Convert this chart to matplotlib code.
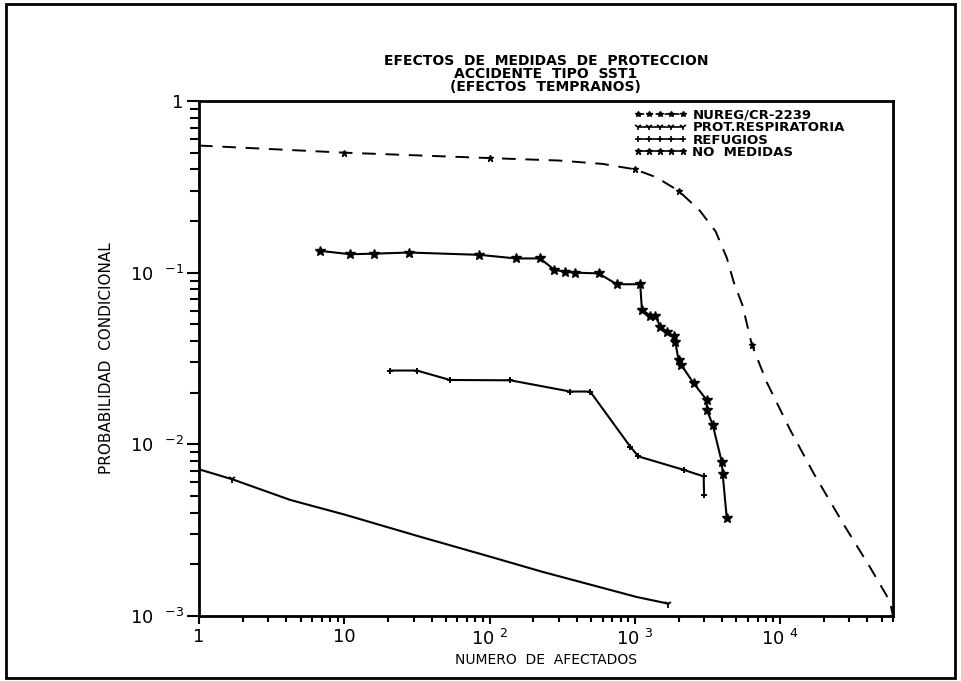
import numpy as np
import matplotlib.pyplot as plt
from matplotlib.lines import Line2D
from matplotlib.patches import Rectangle
from matplotlib.ticker import LogLocator, NullFormatter, FixedLocator, FixedFormatter

# curva de referencia NUREG/CR-2239 (discontinua)
nureg_x = [1, 10, 100, 300, 600, 1000, 1400, 2000, 2800, 3600, 4300, 4800, 5500, 6400,
           8100, 11700, 17000, 27500, 42000, 57000, 60000]
nureg_y = [0.55, 0.50, 0.465, 0.45, 0.43, 0.40, 0.36, 0.30, 0.23, 0.174, 0.122, 0.088, 0.065,
           0.038, 0.023, 0.0122, 0.0068, 0.0034, 0.0019, 0.00122, 0.001]
nureg_marks = [1, 2, 5, 7, 13, 20]

prot_x = [1, 1.7, 4.25, 10, 33, 100, 230, 1030, 1700]
prot_y = [0.00715, 0.00625, 0.00474, 0.0039, 0.0029, 0.00222, 0.00181, 0.00129, 0.00118]
prot_marks = [1, 8]

refugios_x = [20.7, 31.6, 53.5, 139, 359, 493, 930, 1060, 2170, 2980, 3000]
refugios_y = [0.0269, 0.0269, 0.0237, 0.0236, 0.0203, 0.0203, 0.0097, 0.0085, 0.0071, 0.0065, 0.0051]

no_med_x = [6.8, 11, 16, 28, 85, 152, 223, 279, 332, 389, 563, 752, 1090, 1120, 1280, 1380,
            1500, 1660, 1850, 1900, 2000, 2090, 2540, 3130, 3130, 3440, 3970, 4030, 4300]
no_med_y = [0.134, 0.128, 0.129, 0.131, 0.127, 0.121, 0.121, 0.104, 0.101, 0.100, 0.099, 0.0856,
            0.0856, 0.0607, 0.0562, 0.0562, 0.0485, 0.0454, 0.0425, 0.0396, 0.031, 0.029, 0.0227,
            0.0181, 0.0159, 0.013, 0.0079, 0.0067, 0.0037]

x_ticks = [1, 10, 100, 1000, 10000]
x_labels = ['1', '10', '10 $^{2}$', '10 $^{3}$', '10 $^{4}$']
y_ticks = [0.001, 0.01, 0.1, 1]
y_labels = ['10  $^{-3}$', '10  $^{-2}$', '10  $^{-1}$', '1']

fig = plt.figure(figsize=(9.61, 6.81), dpi=100)
ax = fig.add_axes([0.2071, 0.0955, 0.7222, 0.7562])

ax.plot(nureg_x, nureg_y, color='black', lw=1.4, ls=(0, (7, 5)))
ax.plot(np.array(nureg_x)[nureg_marks], np.array(nureg_y)[nureg_marks], ls='none',
        marker='*', ms=5, color='black')
ax.plot(prot_x, prot_y, color='black', lw=1.5, marker='1', ms=6, mew=1.3, markevery=prot_marks)
ax.plot(refugios_x, refugios_y, color='black', lw=1.5, marker='+', ms=5, mew=1.4)
ax.plot(no_med_x, no_med_y, color='black', lw=1.5, marker='*', ms=7)

ax.set_xscale('log')
ax.set_yscale('log')
ax.set_xlim(1, 6e4)
ax.set_ylim(1e-3, 1)

ax.xaxis.set_major_locator(FixedLocator(x_ticks))
ax.xaxis.set_major_formatter(FixedFormatter(x_labels))
ax.yaxis.set_major_locator(FixedLocator(y_ticks))
ax.yaxis.set_major_formatter(FixedFormatter(y_labels))
ax.xaxis.set_minor_locator(LogLocator(base=10, subs=range(2, 10), numticks=20))
ax.yaxis.set_minor_locator(LogLocator(base=10, subs=range(2, 10), numticks=20))
ax.xaxis.set_minor_formatter(NullFormatter())
ax.yaxis.set_minor_formatter(NullFormatter())

ax.tick_params(axis='both', which='both', direction='out', width=1.5, colors='black')
ax.tick_params(axis='x', which='major', length=6, labelsize=13, pad=3)
ax.tick_params(axis='x', which='minor', length=4)
ax.tick_params(axis='y', which='major', length=9, labelsize=13, pad=2)
ax.tick_params(axis='y', which='minor', length=6.5)
for s in ax.spines.values():
    s.set_linewidth(2)

handles = [
    Line2D([], [], color='black', lw=1.2, ls='--', marker='*', ms=4),
    Line2D([], [], color='black', lw=1.2, marker='1', ms=5, mew=1.2),
    Line2D([], [], color='black', lw=1.2, marker='+', ms=5, mew=1.2),
    Line2D([], [], color='black', lw=1.2, marker='*', ms=5),
]
names = ['NUREG/CR-2239', 'PROT.RESPIRATORIA', 'REFUGIOS', 'NO  MEDIDAS']
ax.legend(handles, names, loc='upper left', bbox_to_anchor=(0.615, 1.0), frameon=False,
          numpoints=5, handlelength=4.0, handletextpad=0.45, labelspacing=-0.05,
          borderaxespad=0.2, prop={'size': 9.5, 'weight': 'bold'})

fig.text(0.568, 0.891, 'EFECTOS  DE  MEDIDAS  DE  PROTECCION\nACCIDENTE  TIPO  SST1\n(EFECTOS  TEMPRANOS)',
         ha='center', va='center', fontsize=10, fontweight='bold', linespacing=0.9)
fig.text(0.111, 0.474, 'PROBABILIDAD  CONDICIONAL', rotation=90, ha='center', va='center',
         fontsize=11, family=['Liberation Sans Narrow', 'DejaVu Sans'])
fig.text(0.568, 0.031, 'NUMERO  DE  AFECTADOS', ha='center', va='center', fontsize=10)

fig.add_artist(Rectangle((0.006, 0.004), 0.988, 0.99, transform=fig.transFigure,
                         fill=False, lw=2, color='black'))

fig.savefig('out.png', dpi=100)
